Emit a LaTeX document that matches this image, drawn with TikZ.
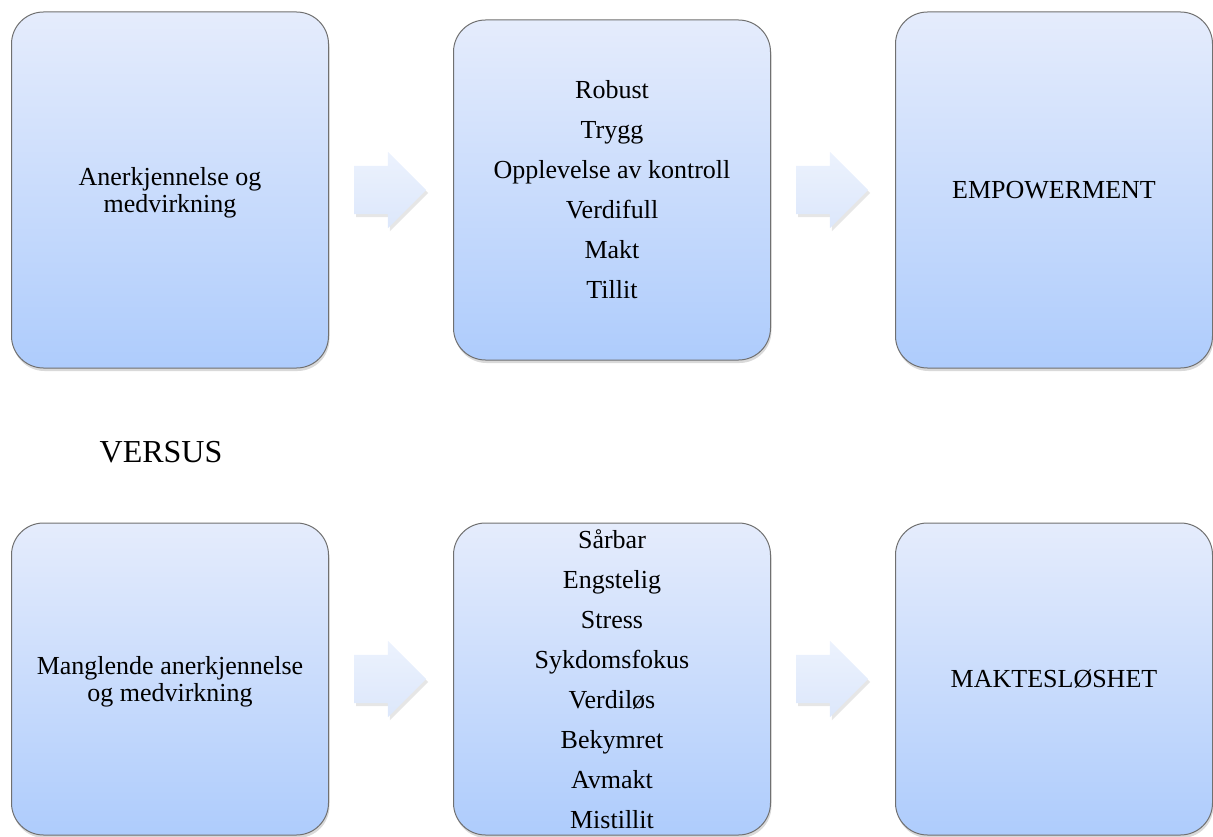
\documentclass[tikz,border=0pt]{standalone}
\usepackage{fontspec}
\setmainfont{Liberation Serif}
\usetikzlibrary{calc,positioning,shapes.arrows,shadows}
\definecolor{boxtop}{RGB}{229,236,252}
\definecolor{boxbot}{RGB}{174,204,252}
\definecolor{boxline}{RGB}{112,112,112}
\definecolor{arrtop}{RGB}{236,242,253}
\definecolor{arrbot}{RGB}{220,231,251}
\tikzstyle{box}=[draw=boxline, line width=1pt, rounded corners=32pt,
		top color=boxtop, bottom color=boxbot, minimum width=317pt,
		inner sep=0pt, align=center, font=\fontsize{26}{40}\selectfont,
		drop shadow={shadow xshift=1pt, shadow yshift=-3pt, opacity=0.3}]
\tikzstyle{tight}=[font=\fontsize{26}{27}\selectfont, yshift=-3pt]
\tikzstyle{arr}=[single arrow, top color=arrtop, bottom color=arrbot,
		inner sep=0pt, text height=24pt, text depth=24pt, text width=0pt,
		minimum height=72pt, single arrow head extend=14pt, xshift=-13pt,
		drop shadow={shadow xshift=2pt, shadow yshift=-3pt, opacity=0.2}]
\tikzstyle{lbl}=[font=\fontsize{32}{36}\selectfont]

\begin{document}
\begin{tikzpicture}[x=1pt, y=-1pt]
            \useasboundingbox (0,0) rectangle (1213,837);
            % top row
            \node[box, minimum height=356pt] (pos1) at (170,190) {};
            \node[tight, align=center] (pos1txt) at (pos1) {Anerkjennelse og\\medvirkning};
            \node[box, minimum height=340pt] (pos2) at (612,190)
                {Robust\\Trygg\\Opplevelse av kontroll\\Verdifull\\Makt\\Tillit};
            \node[box, minimum height=356pt] (pos3) at (1054,190) {EMPOWERMENT};
            \node[arr] (pa1) at ($(pos1.east)!0.5!(pos2.west)$) {};
            \node[arr] (pa2) at ($(pos2.east)!0.5!(pos3.west)$) {};
            \node[lbl] (vs) at (161,452) {VERSUS};
            % bottom row
            \node[box, minimum height=312pt] (neg1) at (170,679) {};
            \node[tight, align=center] (neg1txt) at (neg1) {Manglende anerkjennelse\\og medvirkning};
            \node[box, minimum height=312pt] (neg2) at (612,679)
                {Sårbar\\Engstelig\\Stress\\Sykdomsfokus\\Verdiløs\\Bekymret\\Avmakt\\Mistillit};
            \node[box, minimum height=312pt] (neg3) at (1054,679) {MAKTESLØSHET};
            \node[arr] (na1) at ($(neg1.east)!0.5!(neg2.west)$) {};
            \node[arr] (na2) at ($(neg2.east)!0.5!(neg3.west)$) {};
        \end{tikzpicture}
\end{document}
